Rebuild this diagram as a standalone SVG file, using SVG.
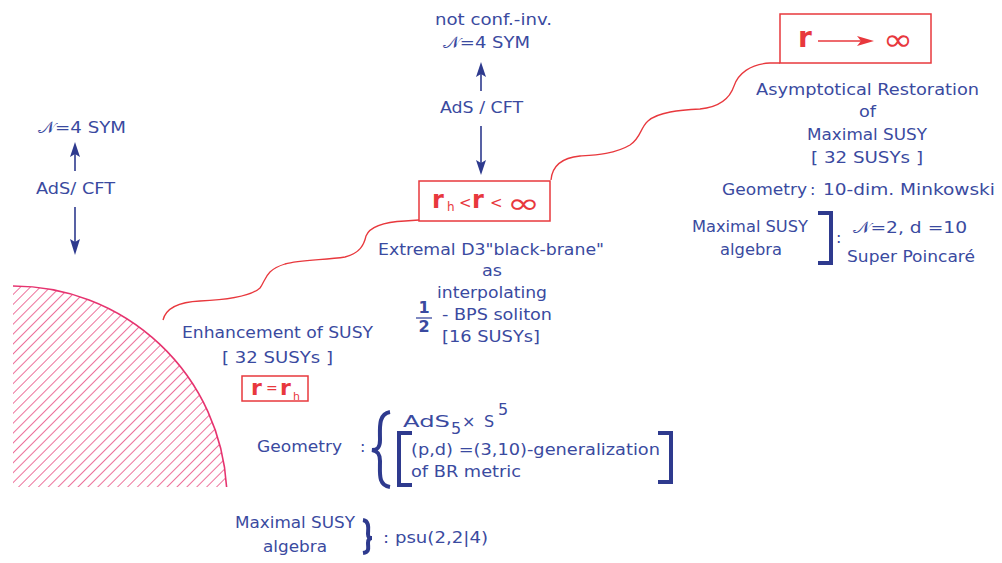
<svg xmlns="http://www.w3.org/2000/svg" width="1002" height="563" viewBox="0 0 1002 563">
<style>
.t{font-family:"DejaVu Sans","Liberation Sans",sans-serif;font-size:16px;fill:#3a4aa0}
.r{font-family:"DejaVu Sans","Liberation Sans",sans-serif;fill:#e8383d}
.box{fill:none;stroke:#e8383d;stroke-width:1.5}
.wave{fill:none;stroke:#e8383d;stroke-width:1.3}
.ar{stroke:#2e3a8e;stroke-width:1.6;fill:none}
.ah{fill:#2e3a8e}
.br{fill:none;stroke:#2e3a8e;stroke-width:4}
</style>
<defs>
<pattern id="hatch" patternUnits="userSpaceOnUse" width="7" height="7" patternTransform="rotate(45)">
<line x1="0" y1="0" x2="0" y2="7" stroke="#e6336f" stroke-width="1.4"/>
</pattern>
</defs>
<rect width="1002" height="563" fill="#fff"/>

<g id="horizon">
<path d="M13,487 L13,286 A214,214 0 0 1 226.6,487 Z" fill="url(#hatch)"/>
<path d="M13,286 A214,214 0 0 1 226.6,487" fill="none" stroke="#e6336f" stroke-width="1.6"/>
</g>

<g id="connectors">
<path class="wave" d="M163,320 C166,308 178,302 200,301 C225,300 250,297 260,288 C266,280 265,270 285,264 C300,260 325,260 345,257 C360,253 364,245 366,236 C370,226 385,222 405,221 L419,220"/>
<path class="wave" d="M551,180 C552,168 560,158 580,156 C595,155 615,154 630,145 C641,138 640,128 648,121 C658,112 680,110 700,109 C720,107 730,98 734,86 C738,74 750,64 770,63 L780,63"/>
<line class="ar" x1="481" y1="74" x2="481" y2="91"/>
<polygon class="ah" points="481,62 476,77 481,74 486,77"/>
<line class="ar" x1="481" y1="126" x2="481" y2="163"/>
<polygon class="ah" points="481,175 476,160 481,163 486,160"/>
<line class="ar" x1="75" y1="154" x2="75" y2="171"/>
<polygon class="ah" points="75,142 70,157 75,154 80,157"/>
<line class="ar" x1="75" y1="207" x2="75" y2="242"/>
<polygon class="ah" points="75,255 70,239 75,242 80,239"/>
</g>

<g id="node-top">
<text class="t" x="435" y="25" textLength="117" lengthAdjust="spacingAndGlyphs">not conf.-inv.</text>
<text class="t" x="443" y="48" textLength="87" lengthAdjust="spacingAndGlyphs">𝒩=4 SYM</text>
<text class="t" x="440" y="113" textLength="83" lengthAdjust="spacingAndGlyphs">AdS / CFT</text>
</g>

<g id="node-left">
<text class="t" x="38" y="133" textLength="88" lengthAdjust="spacingAndGlyphs">𝒩=4 SYM</text>
<text class="t" x="36" y="194" textLength="79" lengthAdjust="spacingAndGlyphs">AdS/ CFT</text>
</g>

<g id="node-rinf">
<rect class="box" x="780" y="14" width="151" height="49"/>
<text class="r" x="798" y="47" font-size="28" font-weight="bold">r</text>
<line x1="818" y1="41" x2="862" y2="41" stroke="#e8383d" stroke-width="1.6"/>
<polygon points="874,41 857,36 861,41 857,46" fill="#e8383d"/>
<text class="r" x="883" y="50" font-size="30" textLength="30" lengthAdjust="spacingAndGlyphs">∞</text>
<text class="t" x="756" y="95" textLength="223" lengthAdjust="spacingAndGlyphs">Asymptotical Restoration</text>
<text class="t" x="859" y="117" textLength="17" lengthAdjust="spacingAndGlyphs">of</text>
<text class="t" x="807" y="140" textLength="120" lengthAdjust="spacingAndGlyphs">Maximal SUSY</text>
<text class="t" x="811" y="163" textLength="112" lengthAdjust="spacingAndGlyphs">[ 32 SUSYs ]</text>
<text class="t" x="722" y="195" textLength="85" lengthAdjust="spacingAndGlyphs">Geometry</text>
<text class="t" x="810" y="195">:</text>
<text class="t" x="823" y="195" textLength="172" lengthAdjust="spacingAndGlyphs">10-dim. Minkowski</text>
<text class="t" x="692" y="232" textLength="116" lengthAdjust="spacingAndGlyphs">Maximal SUSY</text>
<text class="t" x="720" y="255" textLength="62" lengthAdjust="spacingAndGlyphs">algebra</text>
<path class="br" d="M818,213 H831 V263 H818"/>
<text class="t" x="836" y="243">:</text>
<text class="t" x="853" y="233" textLength="114" lengthAdjust="spacingAndGlyphs">𝒩=2, d =10</text>
<text class="t" x="847" y="262" textLength="128" lengthAdjust="spacingAndGlyphs">Super Poincaré</text>
</g>

<g id="node-mid">
<rect class="box" x="419" y="181" width="131" height="40"/>
<text class="r" x="432" y="208" font-size="24" font-weight="bold">r</text>
<text class="r" x="447" y="211" font-size="12">h</text>
<text class="r" x="459" y="208" font-size="15">&lt;</text>
<text class="r" x="472" y="208" font-size="24" font-weight="bold">r</text>
<text class="r" x="490" y="208" font-size="15">&lt;</text>
<text class="r" x="507" y="213" font-size="28" textLength="33" lengthAdjust="spacingAndGlyphs">∞</text>
<text class="t" x="378" y="255" textLength="226" lengthAdjust="spacingAndGlyphs">Extremal D3"black-brane"</text>
<text class="t" x="482" y="276" textLength="20" lengthAdjust="spacingAndGlyphs">as</text>
<text class="t" x="437" y="298" textLength="110" lengthAdjust="spacingAndGlyphs">interpolating</text>
<text class="t" x="424" y="313" font-size="8" text-anchor="middle" font-weight="bold">1</text>
<line x1="416" y1="318" x2="432" y2="318" stroke="#3a4aa0" stroke-width="1.3"/>
<text class="t" x="424" y="332" font-size="8" text-anchor="middle" font-weight="bold">2</text>
<text class="t" x="442" y="320" textLength="110" lengthAdjust="spacingAndGlyphs">- BPS soliton</text>
<text class="t" x="442" y="342" textLength="98" lengthAdjust="spacingAndGlyphs">[16 SUSYs]</text>
</g>

<g id="node-rh">
<text class="t" x="182" y="338" textLength="191" lengthAdjust="spacingAndGlyphs">Enhancement of SUSY</text>
<text class="t" x="222" y="363" textLength="111" lengthAdjust="spacingAndGlyphs">[ 32 SUSYs ]</text>
<rect class="box" x="242" y="376" width="66" height="25"/>
<text class="r" x="251" y="395" font-size="22" font-weight="bold">r</text>
<text class="r" x="266" y="393" font-size="14">=</text>
<text class="r" x="280" y="395" font-size="22" font-weight="bold">r</text>
<text class="r" x="293" y="400" font-size="11">h</text>
</g>

<g id="node-geometry">
<text class="t" x="257" y="452" textLength="85" lengthAdjust="spacingAndGlyphs">Geometry</text>
<text class="t" x="360" y="452">:</text>
<path class="br" d="M390,412 C378,414 380,428 380,440 C380,447 378,450 372,450 C378,451 380,454 380,461 C380,474 378,485 390,487"/>
<text class="t" x="403" y="427" font-size="19" textLength="47" lengthAdjust="spacingAndGlyphs">AdS</text>
<text class="t" x="451" y="434" font-size="13">5</text>
<text class="t" x="462" y="427">×</text>
<text class="t" x="484" y="427" font-size="19">S</text>
<text class="t" x="498" y="415" font-size="13">5</text>
<path class="br" d="M412,433 H399 V485 H412"/>
<text class="t" x="411" y="455" textLength="249" lengthAdjust="spacingAndGlyphs">(p,d) =(3,10)-generalization</text>
<text class="t" x="411" y="477" textLength="110" lengthAdjust="spacingAndGlyphs">of BR metric</text>
<path class="br" d="M658,433 H671 V482 H658"/>
</g>

<g id="node-algebra">
<text class="t" x="235" y="528" textLength="120" lengthAdjust="spacingAndGlyphs">Maximal SUSY</text>
<text class="t" x="263" y="552" textLength="64" lengthAdjust="spacingAndGlyphs">algebra</text>
<path class="br" stroke-width="3" d="M363,520 C370,521 368,530 368,534 C368,537 369,538 372,538 C369,538 368,540 368,543 C368,548 370,552 363,553"/>
<text class="t" x="383" y="543" textLength="105" lengthAdjust="spacingAndGlyphs">: psu(2,2|4)</text>
</g>
</svg>
